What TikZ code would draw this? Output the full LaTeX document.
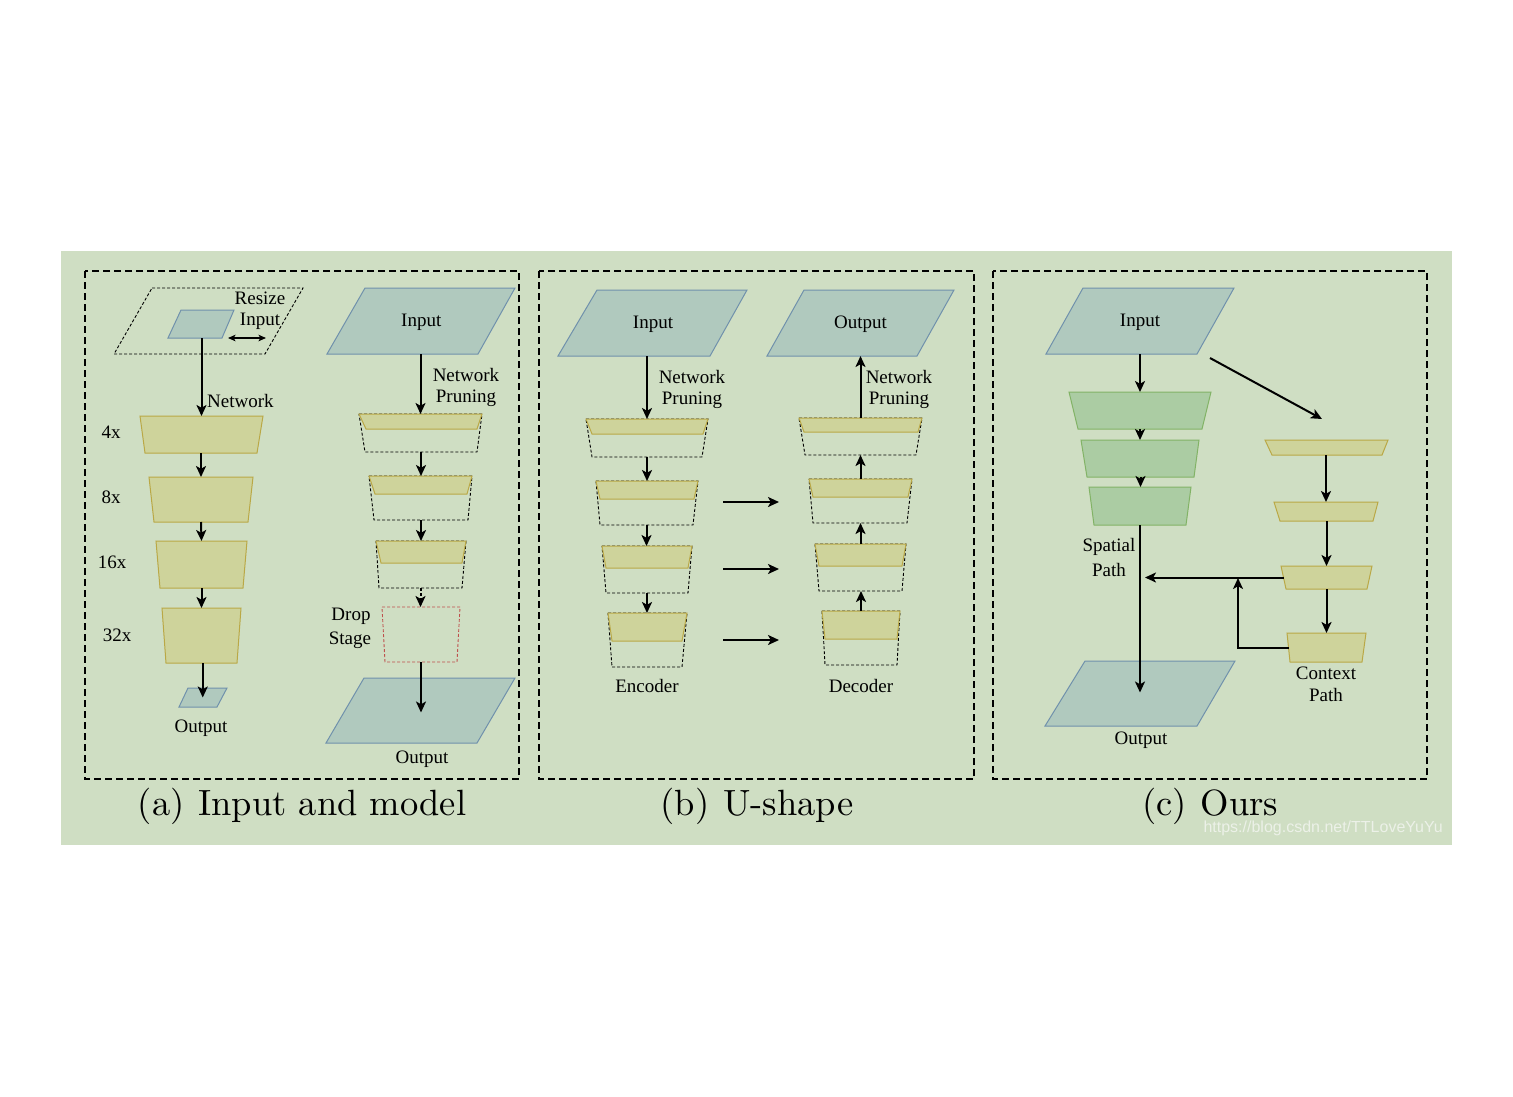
\documentclass[tikz,border=0pt]{standalone}
\usepackage{fontspec}
\newfontfamily\tms{Liberation Serif}
\newfontfamily\arl{Liberation Sans}
\newfontfamily\capf{lmroman10-regular}[Extension=.otf]
\usetikzlibrary{arrows.meta}
\definecolor{bgc}{RGB}{207,222,195}
\definecolor{paraF}{RGB}{176,201,190}
\definecolor{paraL}{RGB}{112,145,172}
\definecolor{yelF}{RGB}{206,211,155}
\definecolor{yelL}{RGB}{186,168,70}
\definecolor{grnF}{RGB}{171,204,163}
\definecolor{grnL}{RGB}{130,179,102}
\definecolor{redL}{RGB}{190,80,76}
\definecolor{urlc}{RGB}{236,241,232}
\newcommand\lfont{\tms\fontsize{19}{22.5}\selectfont}
\newcommand\quadr[8]{%
  \draw[#1] (#3,#5) -- (#4,#5) -- (#7,#8) -- (#6,#8) -- cycle;
  \coordinate (#2-n) at ({(#3+#4)/2},#5);
  \coordinate (#2-s) at ({(#6+#7)/2},#8);
  \coordinate (#2-w) at ({(#3+#6)/2},{(#5+#8)/2});
  \coordinate (#2-e) at ({(#4+#7)/2},{(#5+#8)/2});
  \coordinate (#2-c) at ({(#3+#4+#6+#7)/4},{(#5+#8)/2});
}
\tikzset{
  panel/.style={draw=black, line width=1.8pt, dash pattern=on 7pt off 4pt},
  para/.style={fill=paraF, draw=paraL, line width=1pt},
  yel/.style={fill=yelF, draw=yelL, line width=1pt},
  grn/.style={fill=grnF, draw=grnL, line width=1pt},
  ghost/.style={draw=black, line width=0.9pt, dash pattern=on 3pt off 2pt},
  dropbox/.style={draw=redL, line width=0.9pt, dash pattern=on 3pt off 2pt},
  conn/.style={draw=black, line width=2pt, -{Stealth[length=11pt,width=10pt,inset=2.8pt]}},
  dconn/.style={conn, dash pattern=on 3pt off 2pt},
  dbl/.style={draw=black, line width=1.3pt, {Stealth[length=7.5pt,width=6.5pt,inset=1.8pt]}-{Stealth[length=7.5pt,width=6.5pt,inset=1.8pt]}},
  lbl/.style={font=\lfont, align=center, inner sep=0pt, text=black},
  captxt/.style={font=\capf\fontsize{36.5}{40}\selectfont, inner sep=0pt, anchor=base},
}
\begin{document}
\begin{tikzpicture}[x=1pt,y=-1pt]
\useasboundingbox (0,0) rectangle (1513,1096);
\fill[bgc] (61,251) rectangle (1452,845);
% panels
\draw[panel] (85,271) rectangle (519,779);
\draw[panel] (539,271) rectangle (974,779);
\draw[panel] (993,271) rectangle (1427,779);

% ===== (a) left column
\quadr{ghost}{rs}{152}{303}{288}{114}{265}{354}
\quadr{para}{ain}{181}{234}{310}{168}{222}{338}
\node[lbl] (rsz) at (260,298) {Resize};
\node[lbl] (rin) at (260,321) {Input};
\coordinate (dA) at (228,338);
\coordinate (dB) at (266,338);
\draw[dbl] (dA) -- (dB);
\quadr{yel}{a4}{140}{263}{416}{145}{257}{453}
\quadr{yel}{a8}{149}{253}{477}{154}{248}{522}
\quadr{yel}{a16}{156}{247}{541}{160}{243}{588}
\quadr{yel}{a32}{162}{241}{608}{166}{237}{663}
\quadr{para}{aout}{188}{227}{688}{179}{217}{707}
\draw[conn] (a4-n |- ain-s) -- (a4-n);
\draw[conn] (a4-s) -- (a8-n);
\draw[conn] (a8-s) -- (a16-n);
\draw[conn] (a16-s) -- (a32-n);
\draw[conn] (aout-c |- a32-s) -- (aout-c);
\node[lbl, anchor=west] (netA) at (207,401) {Network};
\node[lbl] (x4) at (111,432) {4x};
\node[lbl] (x8) at (111,497) {8x};
\node[lbl] (x16) at (112,562) {16x};
\node[lbl] (x32) at (117,635) {32x};
\node[lbl] (aoutt) at (201,728) {Output};

% ===== (a) right column
\quadr{para}{bin}{365}{515}{288}{327}{478}{354}
\node[lbl] (bint) at ([yshift=-1.5pt]bin-c) {Input};
\quadr{ghost}{p1g}{359}{482}{414}{365}{477}{452}
\quadr{yel}{p1}{359}{482}{414}{366}{477}{429}
\quadr{ghost}{p2g}{369}{472}{476}{374}{468}{520}
\quadr{yel}{p2}{369}{472}{476}{375}{467}{494}
\quadr{ghost}{p3g}{376}{466}{541}{379}{462}{588}
\quadr{yel}{p3}{376}{466}{541}{381}{462}{563}
\quadr{dropbox}{drop}{382}{460}{607}{385}{457}{662}
\quadr{para}{bout}{364}{515}{678}{326}{477}{743}
\draw[conn] (p1-n |- bin-s) -- (p1-n);
\draw[conn] (p1g-s) -- (p1g-s |- p2-n);
\draw[conn] (p2g-s) -- (p2g-s |- p3-n);
\draw[dconn] (p3g-s) -- (p3g-s |- drop-n);
\draw[conn] (drop-s) -- ([yshift=-2pt]drop-s |- bout-c);
\node[lbl] (npa1) at (466,375) {Network};
\node[lbl] (npa2) at (466,398) {Pruning};
\node[lbl] (drp1) at (351,616) {Drop};
\node[lbl] (drp2) at (350,640) {Stage};
\node[lbl] (boutt) at (422,759) {Output};
\node[captxt] (capa) at (302,815) {(a)\hspace{14pt}Input and model};

% ===== (b)
\quadr{para}{uin}{597}{747}{290}{558}{710}{356}
\node[lbl] (uint) at ([yshift=-1.5pt]uin-c) {Input};
\quadr{para}{uout}{804}{954}{290}{767}{917}{356}
\node[lbl] (uoutt) at ([yshift=-1.5pt]uout-c) {Output};
\quadr{ghost}{e1g}{586}{708}{419}{592}{702}{457}
\quadr{yel}{e1}{586}{708}{419}{592}{703}{434}
\quadr{ghost}{e2g}{596}{698}{481}{600}{693}{525}
\quadr{yel}{e2}{596}{698}{481}{600}{694}{499}
\quadr{ghost}{e3g}{602}{692}{546}{606}{688}{593}
\quadr{yel}{e3}{602}{692}{546}{606}{688}{568}
\quadr{ghost}{e4g}{608}{687}{613}{612}{682}{667}
\quadr{yel}{e4}{608}{687}{613}{612}{682}{641}
\quadr{ghost}{d1g}{799}{922}{418}{805}{916}{455}
\quadr{yel}{d1}{799}{922}{418}{804}{918}{432}
\quadr{ghost}{d2g}{809}{912}{479}{813}{907}{523}
\quadr{yel}{d2}{809}{912}{479}{813}{908}{497}
\quadr{ghost}{d3g}{815}{906}{544}{819}{902}{591}
\quadr{yel}{d3}{815}{906}{544}{819}{902}{566}
\quadr{ghost}{d4g}{822}{900}{611}{825}{897}{665}
\quadr{yel}{d4}{822}{900}{611}{825}{897}{639}
\draw[conn] (e1-n |- uin-s) -- (e1-n);
\draw[conn] (e1g-s) -- (e1g-s |- e2-n);
\draw[conn] (e2g-s) -- (e2g-s |- e3-n);
\draw[conn] (e3g-s) -- (e3g-s |- e4-n);
\draw[conn] (d1-n) -- (d1-n |- uout-s);
\draw[conn] (d2-n) -- (d2-n |- d1g-s);
\draw[conn] (d3-n) -- (d3-n |- d2g-s);
\draw[conn] (d4-n) -- (d4-n |- d3g-s);
\coordinate (h1a) at (723,502); \coordinate (h1b) at (779,502);
\coordinate (h2a) at (723,569); \coordinate (h2b) at (779,569);
\coordinate (h3a) at (723,640); \coordinate (h3b) at (779,640);
\draw[conn] (h1a) -- (h1b);
\draw[conn] (h2a) -- (h2b);
\draw[conn] (h3a) -- (h3b);
\node[lbl] (npb1) at (692,377) {Network};
\node[lbl] (npb2) at (692,400) {Pruning};
\node[lbl] (npc1) at (899,377) {Network};
\node[lbl] (npc2) at (899,400) {Pruning};
\node[lbl] (enc) at (647,686) {Encoder};
\node[lbl] (dec) at (861,686) {Decoder};
\node[captxt] (capb) at (757,815) {(b)\hspace{14pt}U-shape};

% ===== (c)
\quadr{para}{cin}{1083}{1234}{288}{1046}{1197}{354}
\node[lbl] (cint) at ([yshift=-1pt]cin-c) {Input};
\quadr{grn}{g1}{1069}{1211}{392}{1078}{1202}{429}
\quadr{grn}{g2}{1081}{1199}{440}{1087}{1194}{477}
\quadr{grn}{g3}{1089}{1191}{487}{1094}{1186}{525}
\quadr{yel}{c1}{1265}{1388}{440}{1272}{1382}{455}
\quadr{yel}{c2}{1274}{1378}{502}{1280}{1373}{521}
\quadr{yel}{c3}{1281}{1372}{566}{1286}{1367}{589}
\quadr{yel}{c4}{1287}{1366}{633}{1290}{1362}{662}
\quadr{para}{cout}{1085}{1235}{661}{1045}{1197}{726}
\draw[conn] (g1-n |- cin-s) -- (g1-n);
\draw[conn] (g1-s) -- (g1-s |- g2-n);
\draw[conn] (g2-s) -- (g2-s |- g3-n);
\draw[conn] (g3-s) -- ([yshift=1pt]g3-s |- cout-c);
\coordinate (dg1) at (1210,358);
\coordinate (dg2) at (1322,419);
\draw[conn] (dg1) -- (dg2);
\draw[conn] (c2-n |- c1-s) -- (c2-n);
\draw[conn] (c2-s) -- (c2-s |- c3-n);
\draw[conn] (c2-s |- c3-s) -- (c2-s |- c4-n);
\draw[conn] (c3-w) -- ([xshift=5pt]g3-s |- c3-w);
\coordinate (jn) at (1238,577);
\draw[conn] (c4-w) -| ([yshift=-1pt]jn);
\node[lbl] (sp1) at (1109,547) {Spatial};
\node[lbl] (sp2) at (1109,570) {Path};
\node[lbl] (cp1) at (1326,673) {Context};
\node[lbl] (cp2) at (1326,695) {Path};
\node[lbl] (coutt) at (1141,740) {Output};
\node[captxt] (capc) at (1210,815) {(c)\hspace{14pt}Ours};
\node[font=\arl\fontsize{16}{18}\selectfont, text=urlc, anchor=base east, inner sep=0pt] (url) at (1443,832) {https://blog.csdn.net/TTLoveYuYu};
\end{tikzpicture}
\end{document}
